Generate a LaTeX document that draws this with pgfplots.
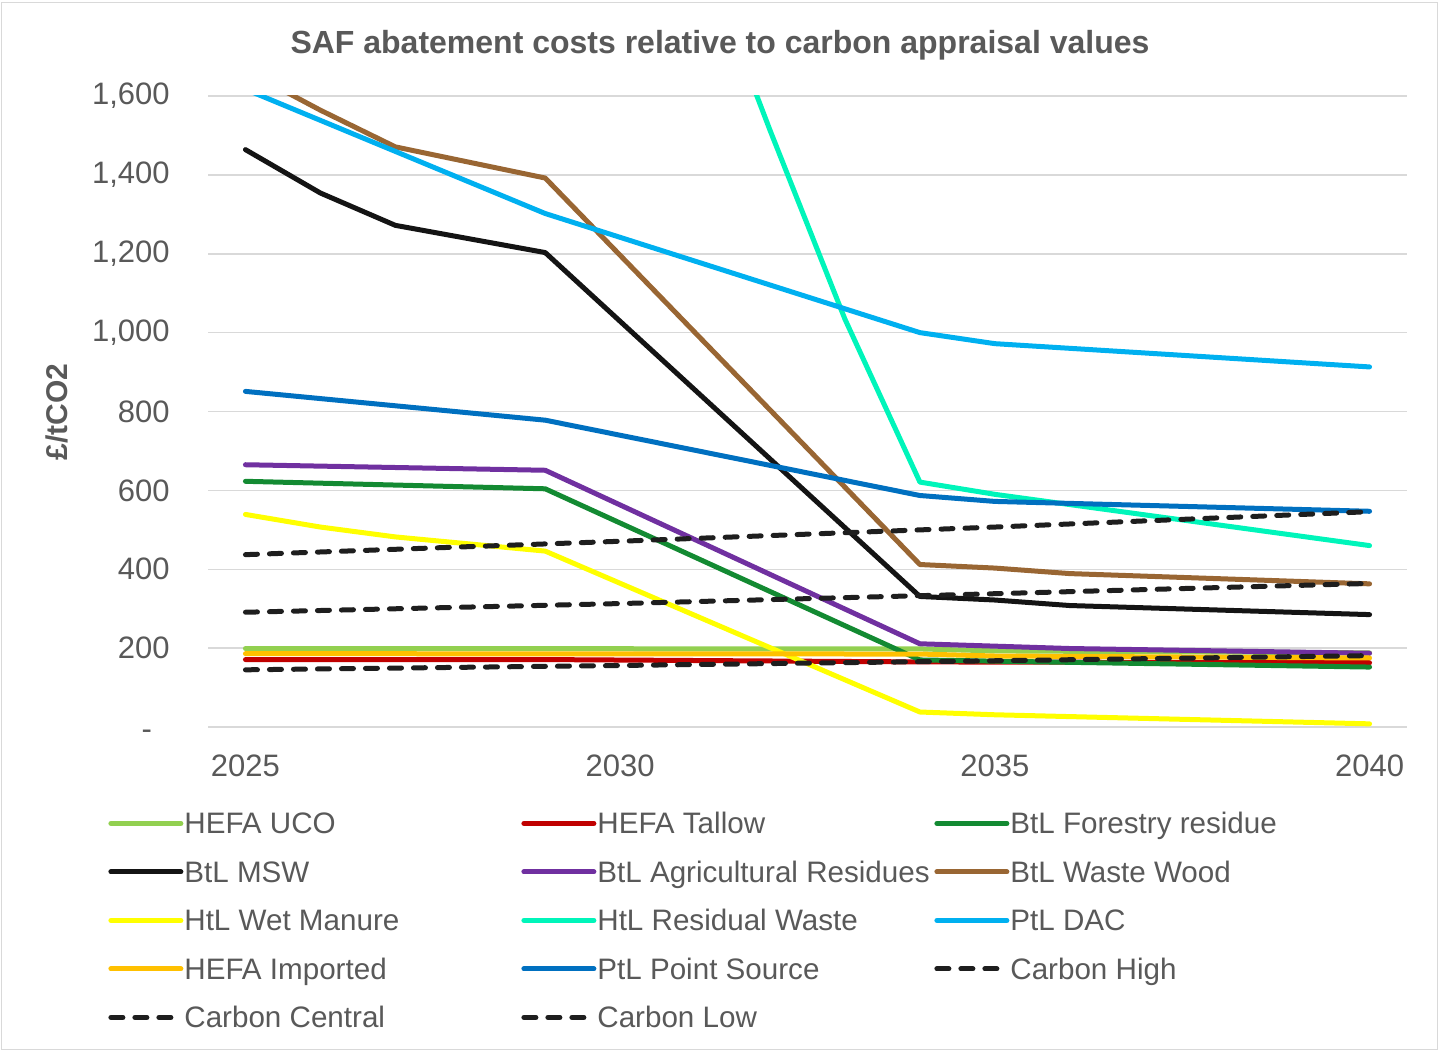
\documentclass[border=0pt]{standalone}
\usepackage{fontspec}
\setmainfont{Liberation Sans}
\usepackage{pgfplots}
\pgfplotsset{compat=1.18}

\definecolor{txt}{HTML}{595959}
\definecolor{grd}{HTML}{D9D9D9}
\definecolor{cUCO}{HTML}{92D050}
\definecolor{cTallow}{HTML}{C00000}
\definecolor{cForest}{HTML}{138A32}
\definecolor{cMSW}{HTML}{141414}
\definecolor{cAgri}{HTML}{7030A0}
\definecolor{cWood}{HTML}{996633}
\definecolor{cManure}{HTML}{FFFF00}
\definecolor{cResid}{HTML}{00F5BA}
\definecolor{cDAC}{HTML}{00B0F0}
\definecolor{cImport}{HTML}{FFC000}
\definecolor{cPoint}{HTML}{0070C0}
\definecolor{cCarbon}{HTML}{1E1E1E}

\newcommand{\legtext}[1]{\makebox[168.5pt][l]{#1}}

\begin{document}
\begin{tikzpicture}
\useasboundingbox (0,0) rectangle (720pt,-526pt);
\draw[grd, line width=0.75pt] (0.75pt,-1.25pt) rectangle (718.75pt,-524.75pt);

\begin{axis}[
    at={(104pt,-363.5pt)}, anchor=south west,
    scale only axis, width=599.5pt, height=315.5pt,
    xmin=2024.5, xmax=2040.5, ymin=0, ymax=1600,
    xtick={2025,2030,2035,2040}, xticklabels={2025,2030,2035,2040},
    ytick={0,200,400,600,800,1000,1200,1400,1600},
    yticklabels={{\raisebox{-6pt}[0pt][0pt]{\makebox[14pt][l]{-}}},200,400,600,800,{1,000},{1,200},{1,400},{1,600}},
    ymajorgrids, grid style={grd, line width=0.75pt},
    axis line style={draw=none}, major tick length=0pt,
    tick label style={font=\fontsize{15.5pt}{18pt}\selectfont, text=txt, inner sep=0pt},
    yticklabel style={anchor=east, xshift=-19pt},
    xticklabel style={anchor=north, yshift=-13.5pt},
    every axis plot/.append style={line width=2.5pt, line cap=round, line join=round},
    legend columns=3, legend cell align=left,
    legend image code/.code={\draw[#1] (0pt,0pt) -- (35pt,0pt);},
    legend style={at={(-0.0834,-0.1306)}, anchor=north west, draw=none, fill=none,
        inner sep=0pt, row sep=10.65pt, font=\fontsize{14.8pt}{17pt}\selectfont, text=txt,
        nodes={inner sep=0pt, text height=12pt, text depth=1.6pt},
        /tikz/every odd column/.append style={column sep=0.5pt},
        /tikz/every even column/.append style={column sep=0pt}},
]
\addplot[cUCO] coordinates {(2025,199) (2034,198) (2035,193) (2040,188)};
\addlegendentry{\legtext{HEFA UCO}}
\addplot[cTallow] coordinates {(2025,171) (2029,171) (2034,165) (2040,163)};
\addlegendentry{\legtext{HEFA Tallow}}
\addplot[cForest] coordinates {(2025,623) (2029,604) (2034,170) (2040,152)};
\addlegendentry{\legtext{BtL Forestry residue}}
\addplot[cMSW] coordinates {(2025,1464) (2026,1354) (2027,1272) (2029,1203) (2034,331) (2035,322) (2036,308) (2040,285)};
\addlegendentry{\legtext{BtL MSW}}
\addplot[cAgri] coordinates {(2025,665) (2029,651) (2034,211) (2035,205) (2036,199) (2040,187)};
\addlegendentry{\legtext{BtL Agricultural Residues}}
\addplot[cWood] coordinates {(2025,1665) (2026,1564) (2027,1471) (2029,1392) (2034,412) (2035,403) (2036,389) (2040,363)};
\addlegendentry{\legtext{BtL Waste Wood}}
\addplot[cManure] coordinates {(2025,539) (2026,507) (2027,482) (2029,446) (2034,38) (2035,31) (2040,8)};
\addlegendentry{\legtext{HtL Wet Manure}}
\addplot[cResid] coordinates {(2031,2010) (2032,1513) (2033,1034) (2034,621) (2035,590) (2040,460)};
\addlegendentry{\legtext{HtL Residual Waste}}
\addplot[cDAC] coordinates {(2025,1617) (2029,1302) (2034,1000) (2035,972) (2040,913)};
\addlegendentry{\legtext{PtL DAC}}
\addplot[cImport] coordinates {(2025,186) (2034,185) (2035,180) (2040,175)};
\addlegendentry{\legtext{HEFA Imported}}
\addplot[cPoint] coordinates {(2025,851) (2029,778) (2034,587) (2035,572) (2040,547)};
\addlegendentry{\legtext{PtL Point Source}}
\addplot[cCarbon, dash pattern=on 6pt off 6pt] coordinates {(2025,437) (2030,471) (2035,507) (2040,546)};
\addlegendentry{\legtext{Carbon High}}
\addplot[cCarbon, dash pattern=on 6pt off 6pt] coordinates {(2025,291) (2030,313) (2035,338) (2040,364)};
\addlegendentry{\legtext{Carbon Central}}
\addplot[cCarbon, dash pattern=on 6pt off 6pt] coordinates {(2025,145) (2030,156) (2035,168) (2040,181)};
\addlegendentry{\legtext{Carbon Low}}
\end{axis}

\node[font=\bfseries\fontsize{16pt}{19pt}\selectfont, text=txt, anchor=base] at (360pt,-27pt) {SAF abatement costs relative to carbon appraisal values};
\node[font=\bfseries\fontsize{15pt}{18pt}\selectfont, text=txt, rotate=90] at (28.5pt,-206pt) {£/tCO2};
\end{tikzpicture}
\end{document}
